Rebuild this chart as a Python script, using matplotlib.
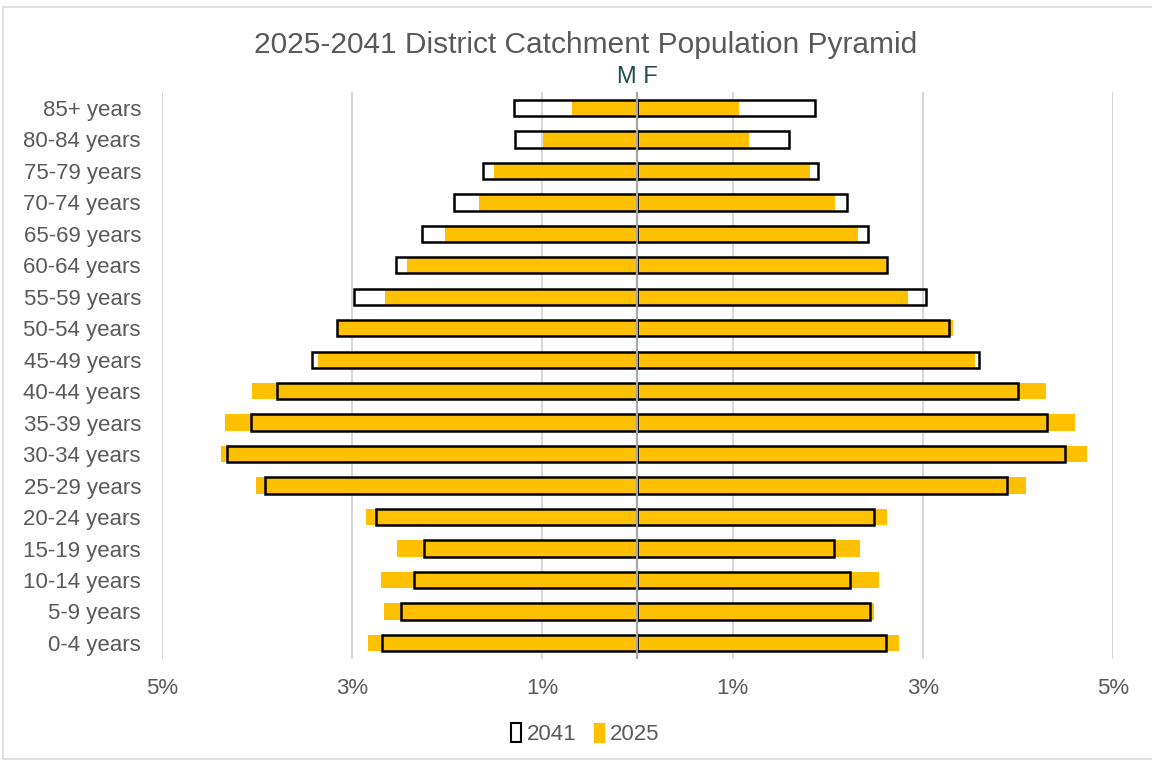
import numpy as np
import matplotlib.pyplot as plt
from matplotlib.patches import Patch, Rectangle

plt.rcParams['font.family'] = ['Liberation Sans', 'DejaVu Sans']

# age groups, bottom to top
ages = ['0-4 years', '5-9 years', '10-14 years', '15-19 years', '20-24 years',
        '25-29 years', '30-34 years', '35-39 years', '40-44 years', '45-49 years',
        '50-54 years', '55-59 years', '60-64 years', '65-69 years', '70-74 years',
        '75-79 years', '80-84 years', '85+ years']

# percent of population (males shown negative)
male_2041 = [-2.68, -2.49, -2.35, -2.24, -2.75, -3.91, -4.31, -4.06, -3.79, -3.42,
             -3.16, -2.98, -2.54, -2.26, -1.93, -1.62, -1.29, -1.30]
female_2041 = [2.61, 2.44, 2.24, 2.07, 2.49, 3.88, 4.50, 4.31, 4.00, 3.59,
               3.28, 3.03, 2.62, 2.42, 2.20, 1.90, 1.59, 1.87]
male_2025 = [-2.83, -2.66, -2.69, -2.53, -2.85, -4.01, -4.38, -4.33, -4.05, -3.36,
             -3.15, -2.65, -2.42, -2.02, -1.67, -1.51, -0.99, -0.69]
female_2025 = [2.75, 2.49, 2.54, 2.34, 2.62, 4.08, 4.73, 4.60, 4.30, 3.55,
               3.32, 2.84, 2.61, 2.32, 2.08, 1.81, 1.17, 1.07]

tick_vals = [-5, -3, -1, 1, 3, 5]
tick_labels = ['5%', '3%', '1%', '1%', '3%', '5%']

gold = '#FFC000'
grey_txt = '#595959'

fig = plt.figure(figsize=(11.52, 7.65), dpi=100)
ax = fig.add_axes([0.1404, 0.139, 0.8258, 0.7405])

y = np.arange(len(ages))
h = 0.52

ax.barh(y, male_2025, height=h, color=gold, zorder=2)
ax.barh(y, female_2025, height=h, color=gold, zorder=2)
ax.barh(y, male_2041, height=h, facecolor='none', edgecolor='black', linewidth=1.8, zorder=3)
ax.barh(y, female_2041, height=h, facecolor='none', edgecolor='black', linewidth=1.8, zorder=3)

ax.axvline(0, color='#A6A6A6', linewidth=1.6, zorder=4)

ax.set_xlim(-5, 5)
ax.set_ylim(-0.5, len(ages) - 0.5)
ax.set_xticks(tick_vals)
ax.set_xticklabels(tick_labels)
ax.set_yticks(y)
ax.set_yticklabels(ages)
ax.tick_params(axis='both', length=0, labelsize=16, labelcolor=grey_txt)
ax.tick_params(axis='x', pad=14)
ax.tick_params(axis='y', pad=15)
ax.grid(axis='x', color='#D9D9D9', linewidth=1.5, zorder=0)
ax.set_axisbelow(True)
for s in ax.spines.values():
    s.set_visible(False)

fig.text(0.5085, 0.941, '2025-2041 District Catchment Population Pyramid',
         ha='center', va='center', fontsize=21.5, color=grey_txt)
fig.text(0.5535, 0.899, 'M F', ha='center', va='center', fontsize=17, color='#1F4E46')

handles = [Patch(facecolor='white', edgecolor='black', linewidth=1.5),
           Patch(facecolor=gold, edgecolor=gold)]
fig.legend(handles, ['2041', '2025'], loc='center', bbox_to_anchor=(0.508, 0.04),
           ncol=2, frameon=False, fontsize=16, labelcolor=grey_txt,
           handlelength=0.45, handleheight=0.9, handletextpad=0.25, columnspacing=0.8)

fig.patches.append(Rectangle((0.003, 0.008), 1.2, 0.983, transform=fig.transFigure,
                             facecolor='none', edgecolor='#D9D9D9', linewidth=1.2))

fig.savefig('out.png', dpi=100)
